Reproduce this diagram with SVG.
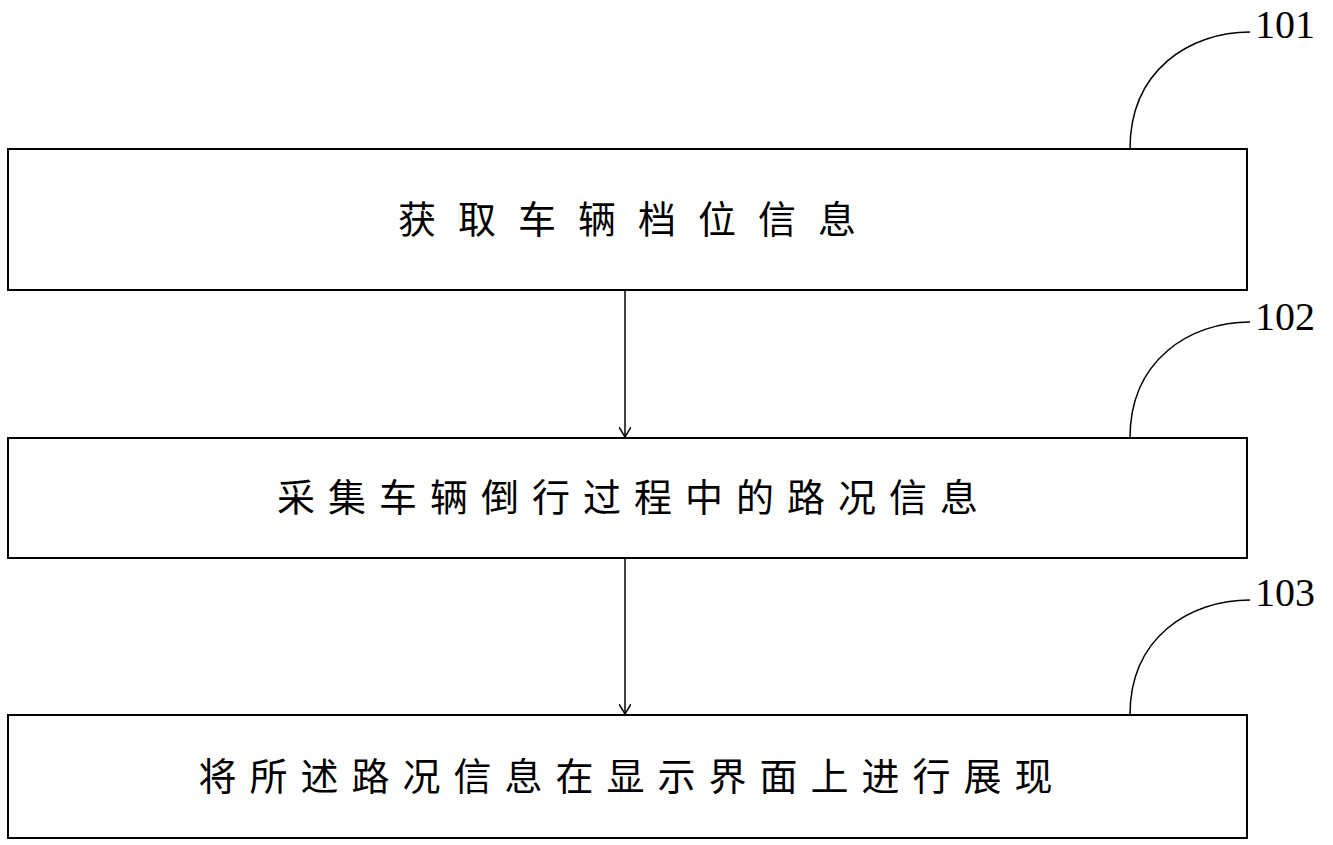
<svg xmlns="http://www.w3.org/2000/svg" width="1333" height="845" viewBox="0 0 1333 845">
<style>
.box{fill:#fff;stroke:#000;stroke-width:2}
.t{font-family:"Liberation Serif","Noto Sans CJK SC",serif;font-size:38px;text-anchor:middle}
.n{font-family:"Liberation Serif",serif;font-size:40px}
.c{fill:none;stroke:#000;stroke-width:1.5}
</style>
<defs><marker id="a" markerWidth="12" markerHeight="12" refX="10" refY="6" orient="auto" markerUnits="userSpaceOnUse"><path d="M0,0 L10,6 L0,12" fill="none" stroke="#000" stroke-width="1.5"/></marker></defs>
<rect width="1333" height="845" fill="#fff"/>
<g id="n1"><rect class="box" x="8" y="149" width="1239" height="141"/><text class="t" x="638" y="233" letter-spacing="22">获取车辆档位信息</text></g>
<g id="n2"><rect class="box" x="8" y="438" width="1239" height="120"/><text class="t" x="634" y="511" letter-spacing="13">采集车辆倒行过程中的路况信息</text></g>
<g id="n3"><rect class="box" x="8" y="715" width="1239" height="123"/><text class="t" x="632" y="790" letter-spacing="13">将所述路况信息在显示界面上进行展现</text></g>
<g id="l1"><path class="c" d="M1130,149 C1130,70 1190,32 1250,32"/><text class="n" x="1255" y="38">101</text></g>
<g id="l2"><path class="c" d="M1130,438 C1130,360 1190,322 1250,322"/><text class="n" x="1255" y="330">102</text></g>
<g id="l3"><path class="c" d="M1130,715 C1130,637 1190,600 1250,600"/><text class="n" x="1255" y="606">103</text></g>
<g id="connectors"><line class="c" x1="625" y1="290" x2="625" y2="437" marker-end="url(#a)"/><line class="c" x1="625" y1="558" x2="625" y2="714" marker-end="url(#a)"/></g>
</svg>
